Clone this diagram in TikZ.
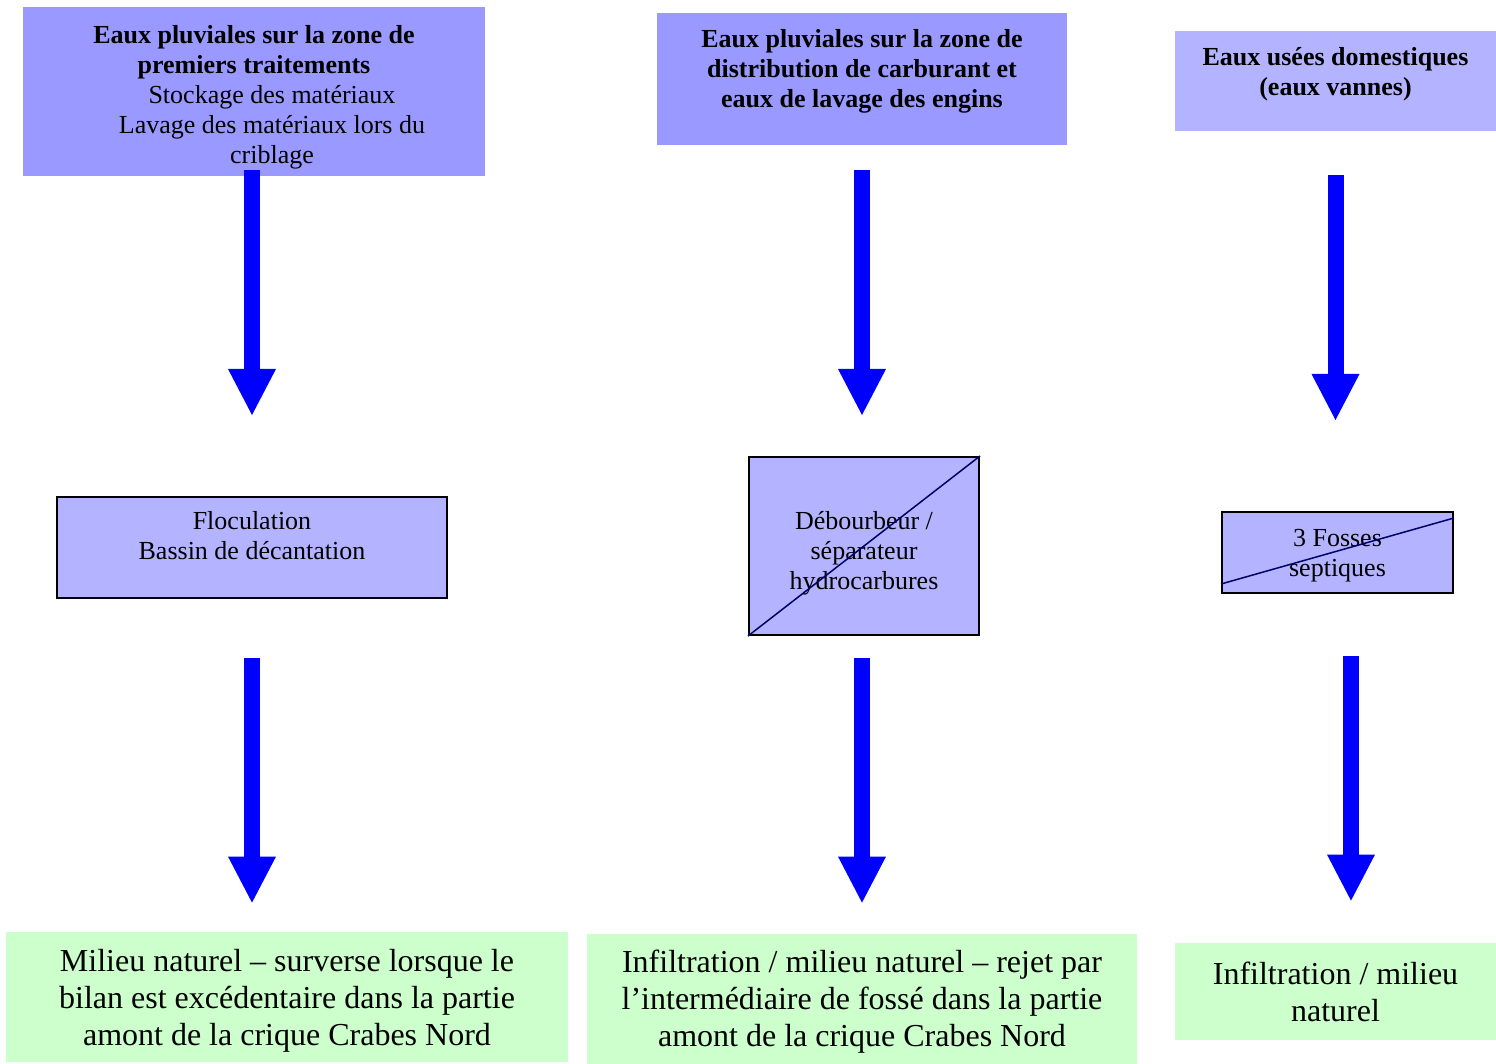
\documentclass[tikz,border=0pt]{standalone}
\usepackage{fontspec}
\setmainfont{Liberation Serif}
\usetikzlibrary{arrows.meta}
\usetikzlibrary{calc}
\definecolor{lavande}{HTML}{9999FF}
\definecolor{lavclair}{HTML}{B3B3FF}
\definecolor{vertpale}{HTML}{CCFFCC}
\definecolor{marine}{HTML}{000066}
\tikzset{source box/.style={fill=lavande,rectangle,inner sep=0,align=center,font=\fontsize{13}{15}\selectfont}}
\tikzset{treat box/.style={fill=lavclair,draw=black,line width=1pt,rectangle,inner sep=0,align=center,font=\fontsize{13}{15}\selectfont}}
\tikzset{outlet box/.style={fill=vertpale,rectangle,inner sep=0,align=center,font=\fontsize{16}{18.5}\selectfont}}
\tikzset{flow/.style={draw=blue,line width=8pt,-{Triangle[width=24pt,length=23pt,line width=0pt]}}}
\tikzset{cross/.style={draw=marine,line width=0.75pt}}
\newcommand{\decale}[2]{\raisebox{#1}[\height][\depth]{\begin{tabular}{@{}c@{}}#2\end{tabular}}}

\begin{document}
\begin{tikzpicture}[x=0.5pt,y=-0.5pt]
          \useasboundingbox (0,0) rectangle (1496,1064);

          %sources
          \node[source box, minimum width=231pt, minimum height=84.5pt] (a) at (254,91.5)
            {\decale{-3pt}{\textbf{Eaux pluviales sur la zone de}\\ \textbf{premiers traitements}\\
             \hspace*{18pt}Stockage des matériaux\\ \hspace*{18pt}Lavage des matériaux lors du\\
             \hspace*{18pt}criblage}};
          \node[source box, minimum width=205pt, minimum height=66pt] (b) at (862,79)
            {\decale{3.5pt}{\textbf{Eaux pluviales sur la zone de}\\ \textbf{distribution de carburant et}\\
             \textbf{eaux de lavage des engins}}};
          \node[source box, fill=lavclair, minimum width=160.5pt, minimum height=50pt] (c) at (1335.5,81)
            {\decale{3pt}{\textbf{Eaux usées domestiques}\\ \textbf{(eaux vannes)}}};

          %traitements
          \node[treat box, minimum width=195pt, minimum height=50.5pt] (m1) at (252,547.5)
            {\decale{4.5pt}{Floculation\\ Bassin de décantation}};
          \node[treat box, minimum width=115pt, minimum height=89pt] (m2) at (864,546)
            {\decale{-4pt}{Débourbeur /\\ séparateur\\ hydrocarbures}};
          \draw[cross] (m2.south west) -- (m2.north east);
          \node[treat box, minimum width=115.5pt, minimum height=40.5pt] (m3) at (1337.5,552.5)
            {\decale{-1.5pt}{3 Fosses\\ septiques}};
          \draw[cross] ($(m3.south west)+(0,-10)$) -- ($(m3.north east)+(0,7)$);

          %rejets
          \node[outlet box, minimum width=281pt, minimum height=65pt] (g1) at (287,997)
            {\decale{-2pt}{Milieu naturel – surverse lorsque le\\ bilan est excédentaire dans la partie\\
             amont de la crique Crabes Nord}};
          \node[outlet box, minimum width=275pt, minimum height=65pt] (g2) at (862,999)
            {\decale{-1.5pt}{Infiltration / milieu naturel – rejet par\\ l’intermédiaire de fossé dans la partie\\
             amont de la crique Crabes Nord}};
          \node[outlet box, minimum width=160.5pt, minimum height=48.5pt] (g3) at (1335.5,991.5)
            {Infiltration / milieu\\ naturel};

          %fleches
          \draw[flow, shorten <=-3pt, shorten >=40.5pt] (m1 |- a.south) -- (m1.north);
          \draw[flow, shorten <=12.5pt, shorten >=20.5pt] (b.south) -- (b.south |- m2.north);
          \draw[flow, shorten <=22pt, shorten >=45.5pt] (c.south) -- (c.south |- m3.north);
          \draw[flow, shorten <=29.5pt, shorten >=14.5pt] (m1.south) -- (m1.south |- g1.north);
          \draw[flow, shorten <=11pt, shorten >=15.5pt] (b.south |- m2.south) -- (b.south |- g2.north);
          \draw[flow, shorten <=31pt, shorten >=21pt] ($(m3.south)+(13.5,0)$) -- ($(m3.south |- g3.north)+(13.5,0)$);

        \end{tikzpicture}
\end{document}
